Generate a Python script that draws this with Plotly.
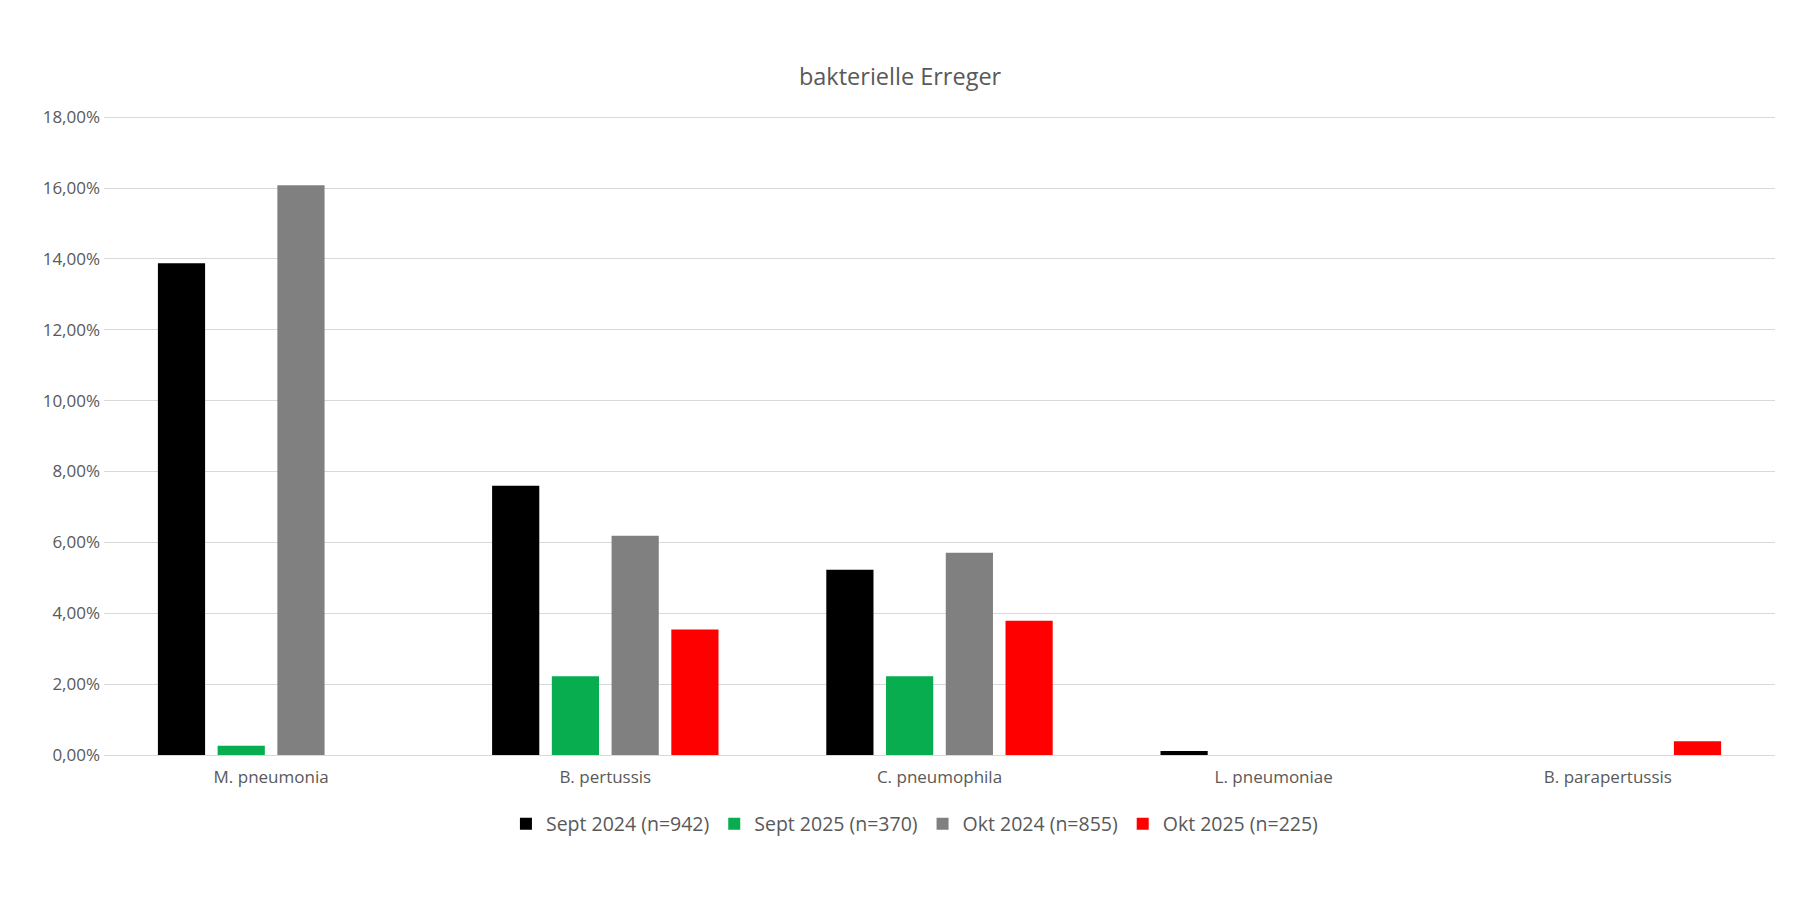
import plotly.graph_objects as go

categories = ["M. pneumonia", "B. pertussis", "C. pneumophila", "L. pneumoniae", "B. parapertussis"]

sept_2024 = [0.1388, 0.0760, 0.0523, 0.0011, 0.0]
sept_2025 = [0.0026, 0.0222, 0.0222, 0.0, 0.0]
okt_2024 = [0.1608, 0.0619, 0.0571, 0.0, 0.0]
okt_2025 = [0.0, 0.0354, 0.0379, 0.0, 0.0039]

series_names = ["Sept 2024 (n=942)", "Sept 2025 (n=370)", "Okt 2024 (n=855)", "Okt 2025 (n=225)"]
series_values = [sept_2024, sept_2025, okt_2024, okt_2025]
series_colors = ["#000000", "#08ad4f", "#808080", "#ff0000"]

fig = go.Figure()
for name, vals, col in zip(series_names, series_values, series_colors):
    fig.add_trace(go.Bar(x=categories, y=vals, name=name, marker_color=col,
                         marker_line_width=0))

txt = "#595959"
# page body adds ~8px margin, so shift everything up/left by that
fig.update_layout(
    width=1800, height=900,
    paper_bgcolor="white", plot_bgcolor="white",
    separators=",.",
    font=dict(family="Open Sans, Liberation Sans, sans-serif", size=17, color=txt),
    title=dict(text="bakterielle Erreger", x=0.4956, xanchor="center", y=1 - 69 / 900,
               yanchor="middle", yref="container", font=dict(size=23.5, color=txt)),
    barmode="group", bargap=0.285, bargroupgap=0.21,
    margin=dict(l=96, r=33, t=107, b=153),
    legend=dict(orientation="h", x=0.485, xanchor="center", y=-0.108, yanchor="middle",
                font=dict(size=19.5, color=txt), traceorder="normal"),
)
fig.update_yaxes(range=[0, 0.1806], dtick=0.02, tickformat=".2%", showgrid=True,
                 gridcolor="#d9d9d9", gridwidth=1, zeroline=False, showline=False,
                 ticks="", ticklabelstandoff=3, tickfont=dict(size=17))
fig.update_xaxes(showline=True, linecolor="#d9d9d9", linewidth=1, ticks="",
                 ticklabelstandoff=7, tickfont=dict(size=17))

fig.write_html("out.html")
